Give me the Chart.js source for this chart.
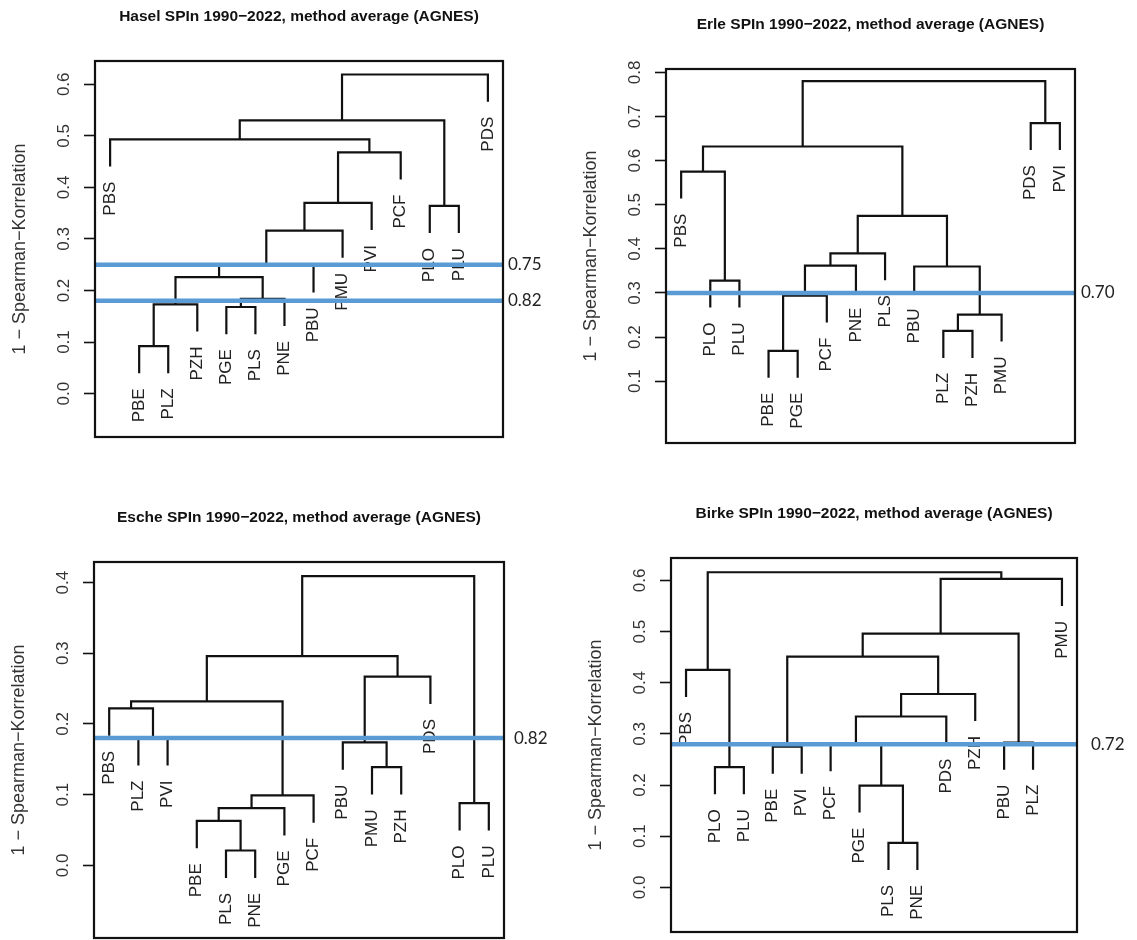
<!DOCTYPE html>
<html>
<head>
<meta charset="utf-8">
<script src="https://cdn.jsdelivr.net/npm/chart.js@4/dist/chart.umd.min.js"></script>
<style>
  html, body { margin: 0; padding: 0; background: #fff; }
  body { width: 1137px; height: 940px; position: relative; overflow: hidden; }
  canvas { position: absolute; }
</style>
</head>
<body>
<canvas id="hasel"></canvas>
<canvas id="erle"></canvas>
<canvas id="esche"></canvas>
<canvas id="birke"></canvas>
<script>
// Leaf order, merge steps (a number points to an earlier merge row), merge heights,
// cut levels (as correlation) and y tick values for every tree.
const haselLeaves = ['PBS','PBE','PLZ','PZH','PGE','PLS','PNE','PBU','PMU','PVI','PCF','PLO','PLU','PDS'];
const haselMerge = [['PBE','PLZ'], [0,'PZH'], ['PGE','PLS'], [2,'PNE'], [1,3], [4,'PBU'], [5,'PMU'],
                    [6,'PVI'], [7,'PCF'], ['PBS',8], ['PLO','PLU'], [9,10], [11,'PDS']];
const haselHeight = [0.092, 0.173, 0.168, 0.184, 0.226, 0.249, 0.316, 0.370, 0.468, 0.493, 0.364, 0.530, 0.619];
const haselCuts = [0.75, 0.82];
const haselTicks = [0.0, 0.1, 0.2, 0.3, 0.4, 0.5, 0.6];

const erleLeaves = ['PBS','PLO','PLU','PBE','PGE','PCF','PNE','PLS','PBU','PLZ','PZH','PMU','PDS','PVI'];
const erleMerge = [['PBE','PGE'], ['PLZ','PZH'], [1,'PMU'], [0,'PCF'], ['PLO','PLU'], ['PBU',2], [3,'PNE'],
                   [6,'PLS'], [7,5], ['PBS',4], [9,8], ['PDS','PVI'], [10,11]];
const erleHeight = [0.169, 0.214, 0.251, 0.294, 0.328, 0.360, 0.362, 0.390, 0.475, 0.575, 0.632, 0.685, 0.780];
const erleCuts = [0.70];
const erleTicks = [0.1, 0.2, 0.3, 0.4, 0.5, 0.6, 0.7, 0.8];

const escheLeaves = ['PBS','PLZ','PVI','PBE','PLS','PNE','PGE','PCF','PBU','PMU','PZH','PDS','PLO','PLU'];
const escheMerge = [['PLS','PNE'], ['PBE',0], [1,'PGE'], ['PLO','PLU'], [2,'PCF'], ['PMU','PZH'], ['PBU',5],
                    ['PLZ','PVI'], ['PBS',7], [8,4], [6,'PDS'], [9,10], [11,3]];
const escheHeight = [0.021, 0.063, 0.081, 0.088, 0.099, 0.139, 0.174, 0.180, 0.222, 0.232, 0.267, 0.296, 0.409];
const escheCuts = [0.82];
const escheTicks = [0.0, 0.1, 0.2, 0.3, 0.4];

const birkeLeaves = ['PBS','PLO','PLU','PBE','PVI','PCF','PGE','PLS','PNE','PDS','PZH','PBU','PLZ','PMU'];
const birkeMerge = [['PLS','PNE'], ['PGE',0], ['PLO','PLU'], ['PBE','PVI'], ['PBU','PLZ'], ['PCF',1], [5,'PDS'],
                    [6,'PZH'], ['PBS',2], [3,7], [9,4], [10,'PMU'], [8,11]];
const birkeHeight = [0.087, 0.199, 0.235, 0.275, 0.283, 0.280, 0.334, 0.378, 0.425, 0.451, 0.496, 0.603, 0.616];
const birkeCuts = [0.72];
const birkeTicks = [0.0, 0.1, 0.2, 0.3, 0.4, 0.5, 0.6];

const FONT = '"Liberation Sans", Arial, sans-serif';
const AXIS_W = 95;

const panels = [
  { id: 'hasel', name: 'Hasel', leaves: haselLeaves, merge: haselMerge, height: haselHeight, cuts: haselCuts, ticks: haselTicks,
    canvas: { left: 0, top: 0, width: 568, height: 470 }, box: { left: 95, top: 61, right: 503, bottom: 437 },
    yMin: -0.0842, yMax: 0.6452, cutGap: 5 },
  { id: 'erle', name: 'Erle', leaves: erleLeaves, merge: erleMerge, height: erleHeight, cuts: erleCuts, ticks: erleTicks,
    canvas: { left: 571, top: 0, width: 566, height: 470 }, box: { left: 666, top: 69, right: 1075, bottom: 443 },
    yMin: -0.040, yMax: 0.8077, cutGap: 6 },
  { id: 'esche', name: 'Esche', leaves: escheLeaves, merge: escheMerge, height: escheHeight, cuts: escheCuts, ticks: escheTicks,
    canvas: { left: -1, top: 470, width: 569, height: 470 }, box: { left: 94, top: 562, right: 504, bottom: 938 },
    yMin: -0.1028, yMax: 0.4291, cutGap: 10 },
  { id: 'birke', name: 'Birke', leaves: birkeLeaves, merge: birkeMerge, height: birkeHeight, cuts: birkeCuts, ticks: birkeTicks,
    canvas: { left: 576, top: 470, width: 561, height: 470 }, box: { left: 671, top: 558, right: 1077, bottom: 932 },
    yMin: -0.0873, yMax: 0.6439, cutGap: 14 }
];

// walk the merge table like plot.hclust: leaves hang 10% of the height range below their parent
function buildTree(leaves, merge, height) {
  const hang = 0.1 * (Math.max(...height) - Math.min(...height));
  const nodes = [];
  const leafEnds = [];
  const segments = [];
  const child = (c, h) => {
    if (typeof c === 'number') return nodes[c];
    const p = { x: leaves.indexOf(c) + 1, y: h - hang };
    leafEnds.push({ name: c, x: p.x, y: p.y });
    return p;
  };
  merge.forEach(([a, b], i) => {
    const h = height[i];
    const l = child(a, h);
    const r = child(b, h);
    segments.push([{ x: l.x, y: l.y }, { x: l.x, y: h }, { x: r.x, y: h }, { x: r.x, y: r.y }]);
    nodes[i] = { x: (l.x + r.x) / 2, y: h };
  });
  return { segments, leafEnds };
}

const treePlugin = {
  id: 'tree',
  beforeDatasetsDraw(chart, args, opts) {
    const { ctx, scales: { x, y } } = chart;
    ctx.save();
    ctx.fillStyle = '#222';
    ctx.font = '17px ' + FONT;
    ctx.textAlign = 'right';
    ctx.textBaseline = 'middle';
    opts.leafEnds.forEach(l => {
      ctx.save();
      ctx.translate(x.getPixelForValue(l.x), y.getPixelForValue(l.y) + 15);
      ctx.rotate(-Math.PI / 2);
      ctx.fillText(l.name, 0, 0);
      ctx.restore();
    });
    ctx.restore();
  },
  afterDraw(chart, args, opts) {
    const { ctx, chartArea: a, scales: { y } } = chart;
    ctx.save();
    ctx.strokeStyle = '#111';
    ctx.lineWidth = 2.2;
    ctx.strokeRect(a.left, a.top, a.right - a.left, a.bottom - a.top);

    // y tick labels, parallel to the axis
    ctx.fillStyle = '#333';
    ctx.font = '17px ' + FONT;
    ctx.textAlign = 'center';
    ctx.textBaseline = 'middle';
    y.ticks.forEach(t => {
      ctx.save();
      ctx.translate(a.left - 31, y.getPixelForValue(t.value));
      ctx.rotate(-Math.PI / 2);
      ctx.fillText(t.value.toFixed(1), 0, 0);
      ctx.restore();
    });

    ctx.fillStyle = '#111';
    ctx.font = 'bold 15.5px ' + FONT;
    ctx.fillText(opts.title, (a.left + a.right) / 2, a.top - 44);

    // cut level labels right of the box
    ctx.fillStyle = '#222';
    ctx.font = '17px Lato, ' + FONT;
    ctx.textAlign = 'left';
    opts.cuts.forEach(c => {
      ctx.fillText(c.toFixed(2), a.right + opts.cutGap, y.getPixelForValue(1 - c));
    });
    ctx.restore();
  }
};

panels.forEach(p => {
  const el = document.getElementById(p.id);
  el.width = p.canvas.width;
  el.height = p.canvas.height;
  el.style.left = p.canvas.left + 'px';
  el.style.top = p.canvas.top + 'px';

  const tree = buildTree(p.leaves, p.merge, p.height);
  const n = p.leaves.length;
  const xMin = 1 - 0.04 * (n - 1);
  const xMax = n + 0.04 * (n - 1);

  const cutSets = p.cuts.map(c => ({
    data: [{ x: xMin, y: 1 - c }, { x: xMax, y: 1 - c }],
    showLine: true, pointRadius: 0, borderColor: '#5b9bd5', borderWidth: 4.5, order: 0
  }));
  const treeSets = tree.segments.map(s => ({
    data: s, showLine: true, pointRadius: 0, borderColor: '#111', borderWidth: 2.2,
    borderJoinStyle: 'miter', order: 1
  }));

  new Chart(el, {
    type: 'scatter',
    data: { datasets: cutSets.concat(treeSets) },
    options: {
      responsive: false,
      animation: false,
      devicePixelRatio: 1,
      events: [],
      layout: {
        padding: {
          left: p.box.left - AXIS_W - p.canvas.left,
          top: p.box.top - p.canvas.top,
          right: p.canvas.left + p.canvas.width - p.box.right,
          bottom: p.canvas.top + p.canvas.height - p.box.bottom
        }
      },
      plugins: {
        legend: { display: false },
        tooltip: { enabled: false },
        tree: {
          leafEnds: tree.leafEnds,
          cuts: p.cuts,
          cutGap: p.cutGap,
          title: p.name + ' SPIn 1990\u22122022, method average (AGNES)'
        }
      },
      scales: {
        x: { type: 'linear', display: false, min: xMin, max: xMax },
        y: {
          type: 'linear',
          position: 'left',
          min: p.yMin,
          max: p.yMax,
          afterFit: s => { s.width = AXIS_W; },
          afterBuildTicks: s => { s.ticks = p.ticks.map(v => ({ value: v })); },
          ticks: { display: false },
          border: { display: false },
          grid: { drawOnChartArea: false, drawTicks: true, tickLength: 11, tickColor: '#111', tickWidth: 1.6 },
          title: {
            display: true,
            text: '1 \u2212 Spearman\u2212Korrelation',
            color: '#333',
            font: { family: FONT, size: 18 },
            padding: { top: 9, bottom: 0 }
          }
        }
      }
    },
    plugins: [treePlugin]
  });
});
</script>
</body>
</html>
